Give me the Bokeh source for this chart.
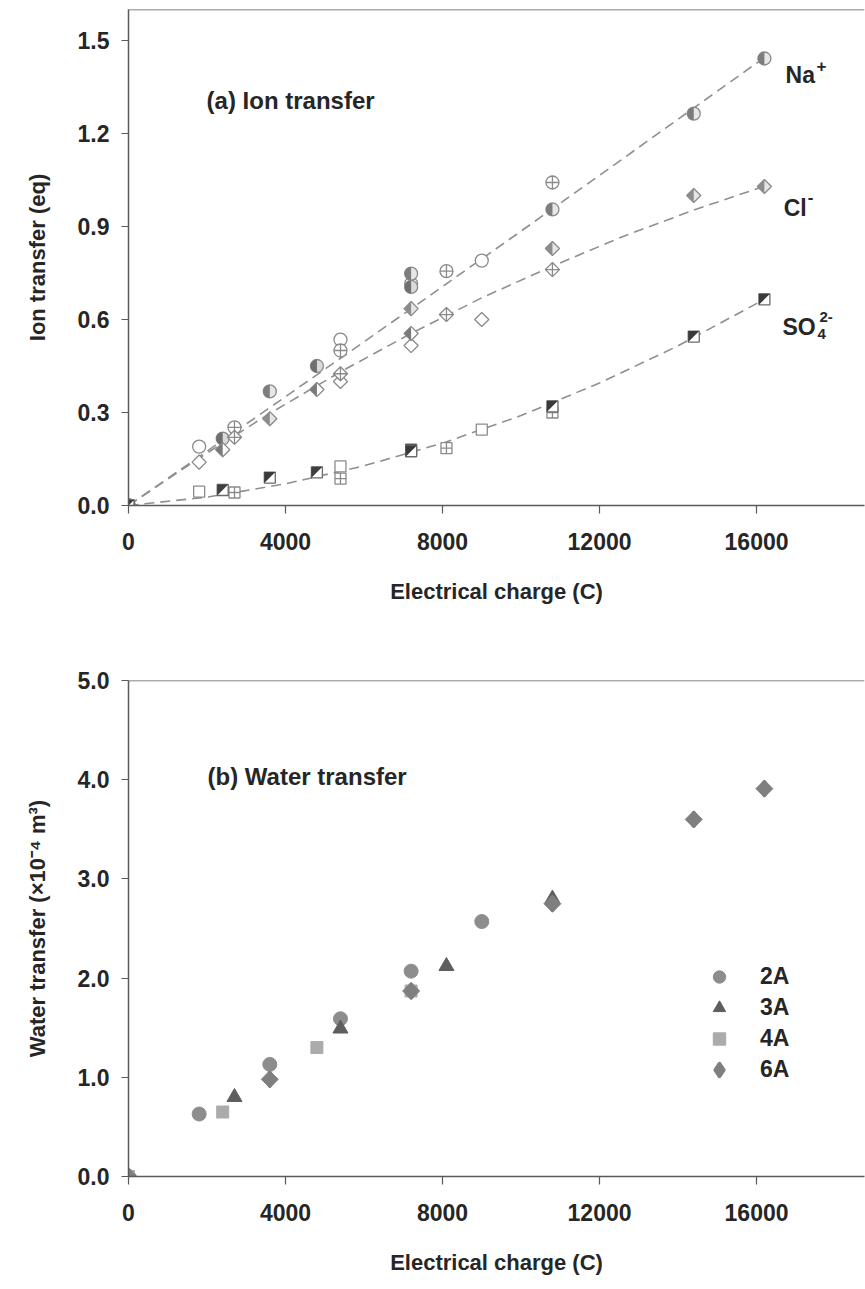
import math
from bokeh.plotting import figure
from bokeh.models import (Range1d, FixedTicker, NumeralTickFormatter, Span, Label,
                          Legend, LegendItem)
from bokeh.layouts import column
from bokeh.embed import file_html
from bokeh.resources import INLINE

# ---------------- data: panel (a) ion transfer (eq) vs charge (C) ----------------
na_2a_x = [0, 1800, 5400, 7200, 9000]
na_2a_y = [0, 0.19, 0.535, 0.715, 0.79]
na_3a_x = [0, 2700, 5400, 8100, 10800]
na_3a_y = [0, 0.252, 0.50, 0.756, 1.042]
na_4a_x = [0, 2400, 4800, 7200]
na_4a_y = [0, 0.216, 0.45, 0.705]
na_6a_x = [0, 3600, 7200, 10800, 14400, 16200]
na_6a_y = [0, 0.368, 0.748, 0.955, 1.264, 1.442]

cl_2a_x = [0, 1800, 5400, 7200, 9000]
cl_2a_y = [0, 0.14, 0.40, 0.516, 0.60]
cl_3a_x = [0, 2700, 5400, 8100, 10800]
cl_3a_y = [0, 0.22, 0.425, 0.616, 0.761]
cl_4a_x = [0, 2400, 4800, 7200]
cl_4a_y = [0, 0.18, 0.374, 0.555]
cl_6a_x = [0, 3600, 7200, 10800, 14400, 16200]
cl_6a_y = [0, 0.28, 0.635, 0.829, 1.0, 1.029]

so4_2a_x = [0, 1800, 5400, 9000]
so4_2a_y = [0, 0.045, 0.126, 0.245]
so4_3a_x = [0, 2700, 5400, 8100, 10800]
so4_3a_y = [0, 0.042, 0.087, 0.185, 0.30]
so4_4a_x = [0, 2400, 4800, 7200]
so4_4a_y = [0, 0.05, 0.107, 0.18]
so4_6a_x = [0, 3600, 7200, 10800, 14400, 16200]
so4_6a_y = [0, 0.09, 0.175, 0.32, 0.545, 0.665]

# fitted dashed curves
na_fit_x = [0, 2000, 4000, 6000, 8000, 10000, 12000, 14000, 16200]
na_fit_y = [0, 0.175, 0.351, 0.528, 0.706, 0.885, 1.065, 1.246, 1.445]
cl_fit_x = [0, 1800, 3600, 5400, 7200, 9000, 10800, 12600, 14400, 16200]
cl_fit_y = [0, 0.153, 0.297, 0.431, 0.555, 0.67, 0.772, 0.868, 0.953, 1.03]
so4_fit_x = [0, 2000, 4000, 6000, 8000, 10000, 12000, 14000, 16200]
so4_fit_y = [0, 0.027, 0.07, 0.128, 0.201, 0.29, 0.395, 0.515, 0.665]

# ---------------- data: panel (b) water transfer (x1e-4 m3) ----------------
w_2a_x = [0, 1800, 3600, 5400, 7200, 9000]
w_2a_y = [0, 0.63, 1.13, 1.59, 2.07, 2.57]
w_3a_x = [0, 2700, 5400, 8100, 10800]
w_3a_y = [0, 0.80, 1.49, 2.12, 2.80]
w_4a_x = [0, 2400, 4800, 7200]
w_4a_y = [0, 0.65, 1.30, 1.87]
w_6a_x = [0, 3600, 7200, 10800, 14400, 16200]
w_6a_y = [0, 0.98, 1.87, 2.75, 3.60, 3.91]

x_ticks = [0, 4000, 8000, 12000, 16000]
ya_ticks = [0.0, 0.3, 0.6, 0.9, 1.2, 1.5]
yb_ticks = [0, 1, 2, 3, 4, 5]
legend_labels = ["2A", "3A", "4A", "6A"]

# ---------------- layout constants ----------------
FW, FH = 736, 496
X_END = 18750.0
YA_END = 1.6
YB_END = 5.0
XPX = X_END / FW

FONT = "Liberation Sans"
TXT = "#262626"
AX = "#5a5a5a"
MK = "#8a8a8a"


def style(p, ylabel, ticks_y, fmt_y):
    p.xgrid.grid_line_color = None
    p.ygrid.grid_line_color = None
    p.outline_line_color = None
    p.background_fill_color = "white"
    p.border_fill_color = "white"
    p.xaxis.ticker = FixedTicker(ticks=x_ticks)
    p.xaxis.formatter = NumeralTickFormatter(format="0")
    p.yaxis.ticker = FixedTicker(ticks=ticks_y)
    p.yaxis.formatter = NumeralTickFormatter(format=fmt_y)
    p.xaxis.axis_label = "Electrical charge (C)"
    p.yaxis.axis_label = ylabel
    for ax in [p.xaxis[0], p.yaxis[0]]:
        ax.axis_line_color = AX
        ax.axis_line_width = 1.5
        ax.major_tick_line_color = AX
        ax.major_tick_line_width = 1.2
        ax.major_tick_in = 0
        ax.minor_tick_line_color = None
        ax.major_label_text_font = FONT
        ax.major_label_text_font_size = "23px"
        ax.major_label_text_font_style = "bold"
        ax.major_label_text_color = TXT
        ax.axis_label_text_font = FONT
        ax.axis_label_text_font_size = "22px"
        ax.axis_label_text_font_style = "bold"
        ax.axis_label_text_color = TXT
    p.xaxis.major_tick_out = 8
    p.xaxis.major_label_standoff = 19
    p.xaxis.axis_label_standoff = 26
    p.yaxis.major_tick_out = 7
    p.yaxis.major_label_standoff = 12
    p.yaxis.axis_label_standoff = 25


def half_diamond(xs, ys, r, ypx):
    px, py = [], []
    for x, y in zip(xs, ys):
        px.append([x, x - r * XPX, x])
        py.append([y + r * ypx, y, y - r * ypx])
    return px, py


def half_square(xs, ys, h, ypx):
    px, py = [], []
    for x, y in zip(xs, ys):
        px.append([x - h * XPX, x + h * XPX, x - h * XPX])
        py.append([y + h * ypx, y + h * ypx, y - h * ypx])
    return px, py


# ================= panel (a) =================
pa = figure(frame_width=FW, frame_height=FH, x_range=Range1d(0, X_END),
            y_range=Range1d(0, YA_END), output_backend="svg", toolbar_location=None,
            min_border_left=128, min_border_right=1, min_border_top=9,
            min_border_bottom=159)
style(pa, "Ion transfer (eq)", ya_ticks, "0.0")
YPA = YA_END / FH

DASH = "10 6"
for fx, fy in [(na_fit_x, na_fit_y), (cl_fit_x, cl_fit_y), (so4_fit_x, so4_fit_y)]:
    pa.line(fx, fy, line_color="#8f8f8f", line_width=1.6, line_dash=DASH)

# Na+ circles
pa.scatter(na_2a_x, na_2a_y, marker="circle", size=13, fill_color="white",
           line_color=MK, line_width=1.3)
pa.scatter(na_3a_x, na_3a_y, marker="circle_cross", size=13, fill_color="white",
           line_color=MK, line_width=1.3)
pa.scatter(na_4a_x, na_4a_y, marker="circle", size=13, fill_color="#d9d9d9",
           line_color=MK, line_width=1.3)
pa.wedge(na_4a_x, na_4a_y, radius=6.5, radius_units="screen", start_angle=math.pi / 2,
         end_angle=3 * math.pi / 2, fill_color="#6f6f6f", line_color=None)
pa.scatter(na_6a_x, na_6a_y, marker="circle", size=13, fill_color="#e6e6e6",
           line_color=MK, line_width=1.3)
pa.wedge(na_6a_x, na_6a_y, radius=6.5, radius_units="screen", start_angle=math.pi / 2,
         end_angle=3 * math.pi / 2, fill_color="#7d7d7d", line_color=None)

# Cl- diamonds
pa.scatter(cl_2a_x, cl_2a_y, marker="square", angle=math.pi / 4, size=10,
           fill_color="white", line_color=MK, line_width=1.3)
pa.scatter(cl_3a_x, cl_3a_y, marker="square_x", angle=math.pi / 4, size=10,
           fill_color="white", line_color=MK, line_width=1.3)
pa.scatter(cl_4a_x, cl_4a_y, marker="square", angle=math.pi / 4, size=10,
           fill_color="white", line_color=MK, line_width=1.3)
hx, hy = half_diamond(cl_4a_x, cl_4a_y, 7.0, YPA)
pa.patches(hx, hy, fill_color="#7a7a7a", line_color=None)
pa.scatter(cl_6a_x, cl_6a_y, marker="square", angle=math.pi / 4, size=10,
           fill_color="#e6e6e6", line_color=MK, line_width=1.3)
hx, hy = half_diamond(cl_6a_x, cl_6a_y, 7.0, YPA)
pa.patches(hx, hy, fill_color="#8c8c8c", line_color=None)

# SO4 2- squares
pa.scatter(so4_2a_x, so4_2a_y, marker="square", size=11, fill_color="white",
           line_color=MK, line_width=1.3)
pa.scatter(so4_3a_x, so4_3a_y, marker="square_cross", size=11, fill_color="white",
           line_color=MK, line_width=1.3)
pa.scatter(so4_4a_x, so4_4a_y, marker="square", size=11, fill_color="white",
           line_color="#6a6a6a", line_width=1.3)
hx, hy = half_square(so4_4a_x, so4_4a_y, 5.5, YPA)
pa.patches(hx, hy, fill_color="#3f3f3f", line_color=None)
pa.scatter(so4_6a_x, so4_6a_y, marker="square", size=11, fill_color="white",
           line_color="#6a6a6a", line_width=1.3)
hx, hy = half_square(so4_6a_x, so4_6a_y, 5.5, YPA)
pa.patches(hx, hy, fill_color="#3a3a3a", line_color=None)

pa.add_layout(Span(location=YA_END, dimension="width", line_color=AX, line_width=1.5))


def lab(p, x, y, text, size, xo=0, yo=0, baseline="middle"):
    p.add_layout(Label(x=x, y=y, text=text, x_offset=xo, y_offset=yo,
                       text_font=FONT, text_font_size=size, text_font_style="bold",
                       text_color=TXT, text_baseline=baseline, text_align="left"))


lab(pa, 1990, 1.306, "(a) Ion transfer", "24px")
lab(pa, 16740, 1.39, "Na", "23px")
lab(pa, 16740, 1.39, "+", "17px", xo=31, yo=9)
lab(pa, 16690, 0.961, "Cl", "23px")
lab(pa, 16690, 0.961, "-", "17px", xo=24, yo=11)
lab(pa, 16660, 0.575, "SO", "23px")
lab(pa, 16660, 0.575, "4", "15px", xo=35, yo=-7)
lab(pa, 16660, 0.575, "2-", "15px", xo=37, yo=10)

# ================= panel (b) =================
pb = figure(frame_width=FW, frame_height=FH, x_range=Range1d(0, X_END),
            y_range=Range1d(0, YB_END), output_backend="svg", toolbar_location=None,
            min_border_left=128, min_border_right=1, min_border_top=16,
            min_border_bottom=108)
style(pb, "Water transfer (×10⁻⁴ m³)", yb_ticks, "0.0")

r2 = pb.scatter(w_2a_x, w_2a_y, marker="circle", size=14, fill_color="#8d8d8d",
                line_color="#8d8d8d")
r3 = pb.scatter(w_3a_x, w_3a_y, marker="triangle", size=15, fill_color="#5e5e5e",
                line_color="#5e5e5e")
r4 = pb.scatter(w_4a_x, w_4a_y, marker="square", size=12, fill_color="#ababab",
                line_color="#ababab")
# plain diamond under the rotated squares, used for the legend entry
r6d = pb.scatter(w_6a_x, w_6a_y, marker="diamond", size=13, fill_color="#7f7f7f",
                 line_color="#7f7f7f", line_width=4, line_join="round")
r6 = pb.scatter(w_6a_x, w_6a_y, marker="square", angle=math.pi / 4, size=12,
                fill_color="#7f7f7f", line_color="#7f7f7f")

pb.add_layout(Span(location=YB_END, dimension="width", line_color=AX, line_width=1.5))
lab(pb, 2013, 4.03, "(b) Water transfer", "24px")

leg = Legend(items=[LegendItem(label=legend_labels[0], renderers=[r2]),
                    LegendItem(label=legend_labels[1], renderers=[r3]),
                    LegendItem(label=legend_labels[2], renderers=[r4]),
                    LegendItem(label=legend_labels[3], renderers=[r6d])],
             location=(574, 91), glyph_width=34, glyph_height=31, spacing=0,
             padding=0, margin=0, label_standoff=24, border_line_color=None,
             background_fill_alpha=0, label_text_font=FONT,
             label_text_font_size="23px", label_text_font_style="bold",
             label_text_color=TXT, label_height=24)
pb.add_layout(leg)

layout = column(pa, pb)
open("out.html", "w").write(file_html(layout, INLINE))
